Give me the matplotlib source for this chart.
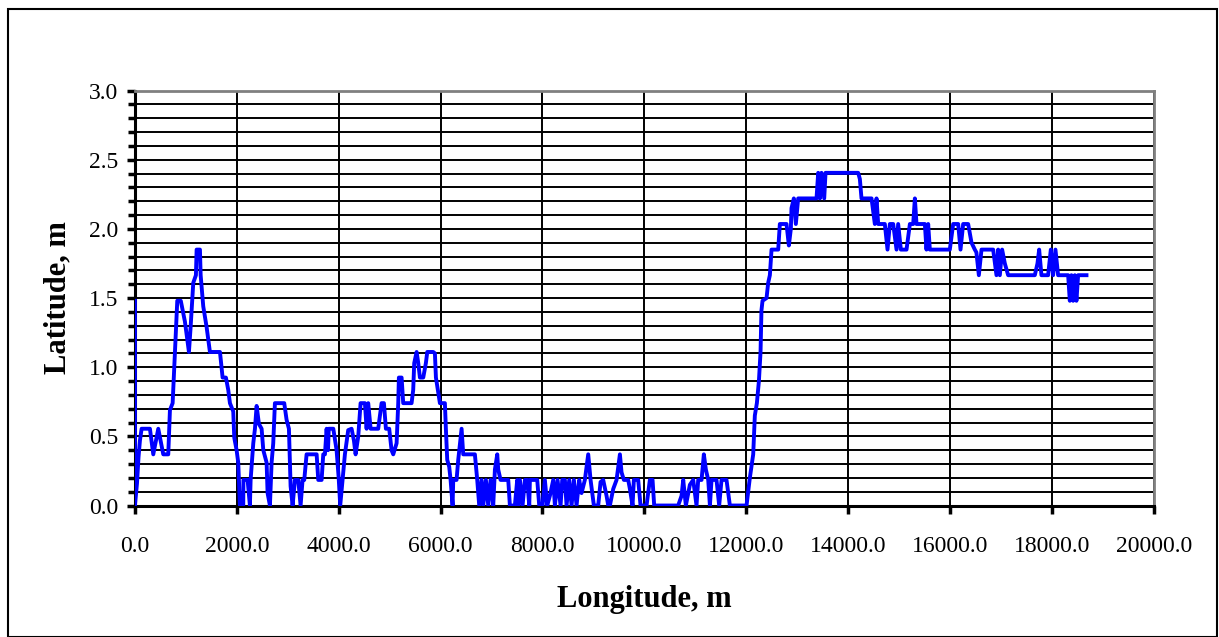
import matplotlib.pyplot as plt
from matplotlib.ticker import MultipleLocator, FormatStrFormatter
from matplotlib.patches import Rectangle

# --- Datos ---
longitud = [
    0, 0, 40, 70, 98, 131, 294, 360, 458, 556, 654, 687, 740, 831, 900, 981,
    1060, 1093, 1145, 1197, 1211, 1276, 1290, 1341, 1407, 1439, 1472, 1669,
    1721, 1786, 1832, 1865, 1930, 1950, 1996, 2028, 2061, 2126, 2130, 2212,
    2257, 2271, 2323, 2356, 2389, 2434, 2487, 2520, 2585, 2604, 2650, 2683,
    2715, 2748, 2931, 2977, 3023, 3056, 3095, 3141, 3206, 3252, 3291, 3324,
    3370, 3567, 3599, 3665, 3697, 3730, 3763, 3790, 3805, 3894, 3959, 4000,
    4030, 4077, 4122, 4187, 4253, 4299, 4332, 4384, 4430, 4515, 4548, 4580,
    4627, 4678, 4776, 4842, 4888, 4927, 4992, 5038, 5071, 5137, 5169, 5182,
    5235, 5267, 5431, 5463, 5483, 5530, 5562, 5595, 5660, 5712, 5739, 5856,
    5889, 5909, 5987, 6085, 6105, 6131, 6170, 6197, 6236, 6249, 6314, 6347,
    6413, 6445, 6674, 6720, 6759, 6805, 6838, 6890, 6936, 6982, 7034, 7067,
    7113, 7132, 7178, 7329, 7361, 7459, 7505, 7525, 7558, 7610, 7656, 7702,
    7741, 7754, 7898, 7937, 8003, 8048, 8094, 8146, 8212, 8245, 8297, 8356,
    8389, 8441, 8474, 8526, 8572, 8618, 8670, 8722, 8768, 8833, 8899, 8945,
    9010, 9095, 9141, 9193, 9259, 9292, 9324, 9390, 9455, 9521, 9553, 9599,
    9684, 9717, 9769, 9795, 9880, 9926, 10044, 10109, 10162, 10194, 10665,
    10731, 10764, 10816, 10895, 10960, 11025, 11058, 11124, 11169, 11209,
    11255, 11288, 11320, 11418, 11470, 11516, 11614, 11680, 12007, 12072,
    12138, 12170, 12210, 12250, 12282, 12300, 12321, 12400, 12432, 12465,
    12498, 12629, 12661, 12792, 12838, 12877, 12890, 12936, 12975, 13021,
    13381, 13414, 13447, 13479, 13532, 13558, 14199, 14232, 14264, 14461,
    14526, 14559, 14592, 14722, 14775, 14821, 14886, 14952, 14984, 15037,
    15148, 15214, 15279, 15312, 15344, 15508, 15540, 15573, 15606, 15998,
    16064, 16162, 16208, 16260, 16358, 16424, 16489, 16520, 16568, 16620,
    16849, 16914, 16947, 16980, 17025, 17078, 17143, 17667, 17719, 17752,
    17797, 17928, 17981, 18026, 18072, 18124, 18321, 18354, 18386, 18419,
    18452, 18484, 18517, 18681,
]
latitud = [
    1.48, 0.0, 0.16, 0.35, 0.47, 0.555, 0.555, 0.37, 0.555, 0.37, 0.37, 0.69,
    0.74, 1.48, 1.48, 1.33, 1.11, 1.29, 1.61, 1.665, 1.85, 1.85, 1.665, 1.44,
    1.29, 1.2, 1.11, 1.11, 0.925, 0.925, 0.835, 0.74, 0.68, 0.49, 0.40, 0.31,
    0.0, 0.0, 0.185, 0.185, 0.0, 0.185, 0.45, 0.555, 0.72, 0.59, 0.555, 0.40,
    0.31, 0.09, 0.0, 0.31, 0.45, 0.74, 0.74, 0.62, 0.555, 0.14, 0.0, 0.185,
    0.185, 0.0, 0.185, 0.185, 0.37, 0.37, 0.185, 0.185, 0.37, 0.37, 0.555,
    0.40, 0.555, 0.555, 0.40, 0.2, 0.0, 0.185, 0.37, 0.545, 0.555, 0.47, 0.37,
    0.5, 0.74, 0.74, 0.555, 0.74, 0.555, 0.555, 0.555, 0.74, 0.74, 0.555,
    0.555, 0.40, 0.37, 0.45, 0.74, 0.925, 0.925, 0.74, 0.74, 0.835, 1.03,
    1.11, 1.03, 0.925, 0.925, 1.03, 1.11, 1.11, 1.10, 0.925, 0.74, 0.74, 0.55,
    0.33, 0.28, 0.185, 0.0, 0.185, 0.185, 0.33, 0.555, 0.37, 0.37, 0.185, 0.0,
    0.185, 0.0, 0.185, 0.0, 0.185, 0.0, 0.26, 0.37, 0.26, 0.185, 0.185, 0.0,
    0.0, 0.185, 0.0, 0.185, 0.0, 0.185, 0.185, 0.0, 0.185, 0.185, 0.0, 0.0,
    0.185, 0.0, 0.07, 0.185, 0.0, 0.185, 0.0, 0.185, 0.185, 0.0, 0.185, 0.0,
    0.185, 0.0, 0.185, 0.09, 0.185, 0.37, 0.185, 0.0, 0.0, 0.17, 0.185, 0.07,
    0.0, 0.0, 0.12, 0.185, 0.37, 0.24, 0.185, 0.185, 0.12, 0.0, 0.185, 0.185,
    0.0, 0.0, 0.185, 0.185, 0.0, 0.0, 0.07, 0.185, 0.0, 0.15, 0.185, 0.0,
    0.185, 0.185, 0.37, 0.26, 0.185, 0.0, 0.185, 0.185, 0.0, 0.185, 0.185,
    0.0, 0.0, 0.2, 0.37, 0.65, 0.74, 0.9, 1.11, 1.41, 1.48, 1.5, 1.61, 1.665,
    1.85, 1.85, 2.035, 2.035, 1.88, 2.0, 2.15, 2.22, 2.035, 2.22, 2.22, 2.405,
    2.22, 2.405, 2.22, 2.405, 2.405, 2.36, 2.22, 2.22, 2.035, 2.22, 2.035,
    2.035, 1.85, 2.035, 2.035, 1.85, 2.035, 1.85, 1.85, 2.035, 2.035, 2.22,
    2.035, 2.035, 1.85, 2.035, 1.85, 1.85, 2.035, 2.035, 1.85, 2.035, 2.035,
    1.9, 1.85, 1.83, 1.665, 1.85, 1.85, 1.665, 1.85, 1.665, 1.85, 1.75,
    1.665, 1.665, 1.75, 1.85, 1.665, 1.665, 1.85, 1.665, 1.85, 1.665, 1.665,
    1.48, 1.665, 1.48, 1.665, 1.48, 1.665, 1.665,
]

plt.rcParams['font.family'] = ['Liberation Serif', 'DejaVu Serif']

fig = plt.figure(figsize=(12.19, 6.37), dpi=100)
ax = fig.add_axes([0.1107, 0.2064, 0.8357, 0.6515])

# Grafico
ax.plot(longitud, latitud, color='#0000FF', linewidth=2.8, zorder=3)

ax.set_xlim(0, 20000)
ax.set_ylim(0, 3.0)
ax.xaxis.set_major_locator(MultipleLocator(2000))
ax.yaxis.set_major_locator(MultipleLocator(0.5))
ax.yaxis.set_minor_locator(MultipleLocator(0.1))
ax.xaxis.set_major_formatter(FormatStrFormatter('%.1f'))
ax.yaxis.set_major_formatter(FormatStrFormatter('%.1f'))

ax.grid(True, which='both', axis='y', color='black', linewidth=1.4)
ax.grid(True, which='major', axis='x', color='black', linewidth=1.4)
ax.set_axisbelow(True)

for lado in ['top', 'right']:
    ax.spines[lado].set_color('#808080')
    ax.spines[lado].set_linewidth(2)
for lado in ['left', 'bottom']:
    ax.spines[lado].set_color('black')
    ax.spines[lado].set_linewidth(2.2)

ax.tick_params(axis='both', which='major', direction='out', length=6,
               width=2.5, labelsize=17, colors='black', pad=16)
ax.tick_params(axis='y', which='minor', direction='out', length=5, width=2.5)
ax.tick_params(axis='y', which='major', pad=6)

ax.set_xlabel('Longitude, m', fontsize=22, fontweight='bold', labelpad=20)
ax.set_ylabel('Latitude, m', fontsize=22, fontweight='bold', labelpad=12)

# Borde exterior de la figura
fig.patches.append(Rectangle((8 / 1219, 0.5 / 637), 1209 / 1219, 628 / 637,
                             transform=fig.transFigure, fill=False,
                             edgecolor='black', linewidth=1.5))

plt.savefig('out.png', dpi=100)
